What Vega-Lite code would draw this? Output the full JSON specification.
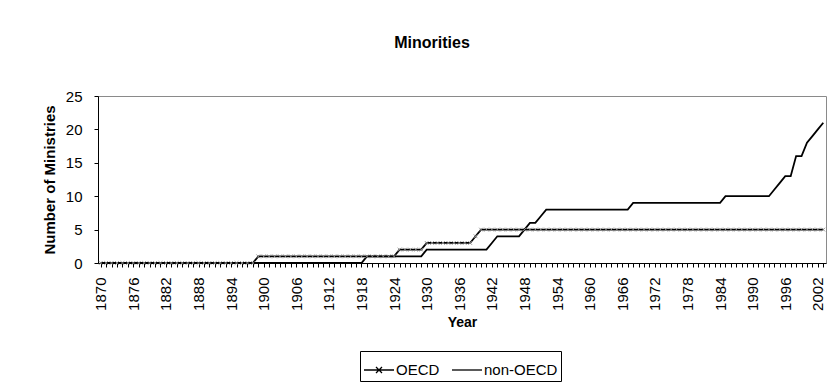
{
  "$schema": "https://vega.github.io/schema/vega-lite/v6.json",
  "autosize": {"type": "none"},
  "width": 728,
  "height": 167,
  "padding": {"left": 98, "top": 96, "right": 4, "bottom": 120},
  "background": "white",
  "config": {
    "font": "Liberation Sans",
    "view": {"stroke": "#8a8a8a", "strokeWidth": 1}
  },
  "title": {
    "text": "Minorities",
    "font": "Liberation Sans",
    "fontSize": 16,
    "fontWeight": "bold",
    "color": "black",
    "anchor": "middle",
    "dx": -30,
    "offset": 38
  },
  "data": {
    "values": [
      {"Year": 1870, "OECD": 0, "non-OECD": 0},
      {"Year": 1871, "OECD": 0, "non-OECD": 0},
      {"Year": 1872, "OECD": 0, "non-OECD": 0},
      {"Year": 1873, "OECD": 0, "non-OECD": 0},
      {"Year": 1874, "OECD": 0, "non-OECD": 0},
      {"Year": 1875, "OECD": 0, "non-OECD": 0},
      {"Year": 1876, "OECD": 0, "non-OECD": 0},
      {"Year": 1877, "OECD": 0, "non-OECD": 0},
      {"Year": 1878, "OECD": 0, "non-OECD": 0},
      {"Year": 1879, "OECD": 0, "non-OECD": 0},
      {"Year": 1880, "OECD": 0, "non-OECD": 0},
      {"Year": 1881, "OECD": 0, "non-OECD": 0},
      {"Year": 1882, "OECD": 0, "non-OECD": 0},
      {"Year": 1883, "OECD": 0, "non-OECD": 0},
      {"Year": 1884, "OECD": 0, "non-OECD": 0},
      {"Year": 1885, "OECD": 0, "non-OECD": 0},
      {"Year": 1886, "OECD": 0, "non-OECD": 0},
      {"Year": 1887, "OECD": 0, "non-OECD": 0},
      {"Year": 1888, "OECD": 0, "non-OECD": 0},
      {"Year": 1889, "OECD": 0, "non-OECD": 0},
      {"Year": 1890, "OECD": 0, "non-OECD": 0},
      {"Year": 1891, "OECD": 0, "non-OECD": 0},
      {"Year": 1892, "OECD": 0, "non-OECD": 0},
      {"Year": 1893, "OECD": 0, "non-OECD": 0},
      {"Year": 1894, "OECD": 0, "non-OECD": 0},
      {"Year": 1895, "OECD": 0, "non-OECD": 0},
      {"Year": 1896, "OECD": 0, "non-OECD": 0},
      {"Year": 1897, "OECD": 0, "non-OECD": 0},
      {"Year": 1898, "OECD": 0, "non-OECD": 0},
      {"Year": 1899, "OECD": 1, "non-OECD": 0},
      {"Year": 1900, "OECD": 1, "non-OECD": 0},
      {"Year": 1901, "OECD": 1, "non-OECD": 0},
      {"Year": 1902, "OECD": 1, "non-OECD": 0},
      {"Year": 1903, "OECD": 1, "non-OECD": 0},
      {"Year": 1904, "OECD": 1, "non-OECD": 0},
      {"Year": 1905, "OECD": 1, "non-OECD": 0},
      {"Year": 1906, "OECD": 1, "non-OECD": 0},
      {"Year": 1907, "OECD": 1, "non-OECD": 0},
      {"Year": 1908, "OECD": 1, "non-OECD": 0},
      {"Year": 1909, "OECD": 1, "non-OECD": 0},
      {"Year": 1910, "OECD": 1, "non-OECD": 0},
      {"Year": 1911, "OECD": 1, "non-OECD": 0},
      {"Year": 1912, "OECD": 1, "non-OECD": 0},
      {"Year": 1913, "OECD": 1, "non-OECD": 0},
      {"Year": 1914, "OECD": 1, "non-OECD": 0},
      {"Year": 1915, "OECD": 1, "non-OECD": 0},
      {"Year": 1916, "OECD": 1, "non-OECD": 0},
      {"Year": 1917, "OECD": 1, "non-OECD": 0},
      {"Year": 1918, "OECD": 1, "non-OECD": 0},
      {"Year": 1919, "OECD": 1, "non-OECD": 1},
      {"Year": 1920, "OECD": 1, "non-OECD": 1},
      {"Year": 1921, "OECD": 1, "non-OECD": 1},
      {"Year": 1922, "OECD": 1, "non-OECD": 1},
      {"Year": 1923, "OECD": 1, "non-OECD": 1},
      {"Year": 1924, "OECD": 1, "non-OECD": 1},
      {"Year": 1925, "OECD": 2, "non-OECD": 1},
      {"Year": 1926, "OECD": 2, "non-OECD": 1},
      {"Year": 1927, "OECD": 2, "non-OECD": 1},
      {"Year": 1928, "OECD": 2, "non-OECD": 1},
      {"Year": 1929, "OECD": 2, "non-OECD": 1},
      {"Year": 1930, "OECD": 3, "non-OECD": 2},
      {"Year": 1931, "OECD": 3, "non-OECD": 2},
      {"Year": 1932, "OECD": 3, "non-OECD": 2},
      {"Year": 1933, "OECD": 3, "non-OECD": 2},
      {"Year": 1934, "OECD": 3, "non-OECD": 2},
      {"Year": 1935, "OECD": 3, "non-OECD": 2},
      {"Year": 1936, "OECD": 3, "non-OECD": 2},
      {"Year": 1937, "OECD": 3, "non-OECD": 2},
      {"Year": 1938, "OECD": 3, "non-OECD": 2},
      {"Year": 1939, "OECD": 4, "non-OECD": 2},
      {"Year": 1940, "OECD": 5, "non-OECD": 2},
      {"Year": 1941, "OECD": 5, "non-OECD": 2},
      {"Year": 1942, "OECD": 5, "non-OECD": 3},
      {"Year": 1943, "OECD": 5, "non-OECD": 4},
      {"Year": 1944, "OECD": 5, "non-OECD": 4},
      {"Year": 1945, "OECD": 5, "non-OECD": 4},
      {"Year": 1946, "OECD": 5, "non-OECD": 4},
      {"Year": 1947, "OECD": 5, "non-OECD": 4},
      {"Year": 1948, "OECD": 5, "non-OECD": 5},
      {"Year": 1949, "OECD": 5, "non-OECD": 6},
      {"Year": 1950, "OECD": 5, "non-OECD": 6},
      {"Year": 1951, "OECD": 5, "non-OECD": 7},
      {"Year": 1952, "OECD": 5, "non-OECD": 8},
      {"Year": 1953, "OECD": 5, "non-OECD": 8},
      {"Year": 1954, "OECD": 5, "non-OECD": 8},
      {"Year": 1955, "OECD": 5, "non-OECD": 8},
      {"Year": 1956, "OECD": 5, "non-OECD": 8},
      {"Year": 1957, "OECD": 5, "non-OECD": 8},
      {"Year": 1958, "OECD": 5, "non-OECD": 8},
      {"Year": 1959, "OECD": 5, "non-OECD": 8},
      {"Year": 1960, "OECD": 5, "non-OECD": 8},
      {"Year": 1961, "OECD": 5, "non-OECD": 8},
      {"Year": 1962, "OECD": 5, "non-OECD": 8},
      {"Year": 1963, "OECD": 5, "non-OECD": 8},
      {"Year": 1964, "OECD": 5, "non-OECD": 8},
      {"Year": 1965, "OECD": 5, "non-OECD": 8},
      {"Year": 1966, "OECD": 5, "non-OECD": 8},
      {"Year": 1967, "OECD": 5, "non-OECD": 8},
      {"Year": 1968, "OECD": 5, "non-OECD": 9},
      {"Year": 1969, "OECD": 5, "non-OECD": 9},
      {"Year": 1970, "OECD": 5, "non-OECD": 9},
      {"Year": 1971, "OECD": 5, "non-OECD": 9},
      {"Year": 1972, "OECD": 5, "non-OECD": 9},
      {"Year": 1973, "OECD": 5, "non-OECD": 9},
      {"Year": 1974, "OECD": 5, "non-OECD": 9},
      {"Year": 1975, "OECD": 5, "non-OECD": 9},
      {"Year": 1976, "OECD": 5, "non-OECD": 9},
      {"Year": 1977, "OECD": 5, "non-OECD": 9},
      {"Year": 1978, "OECD": 5, "non-OECD": 9},
      {"Year": 1979, "OECD": 5, "non-OECD": 9},
      {"Year": 1980, "OECD": 5, "non-OECD": 9},
      {"Year": 1981, "OECD": 5, "non-OECD": 9},
      {"Year": 1982, "OECD": 5, "non-OECD": 9},
      {"Year": 1983, "OECD": 5, "non-OECD": 9},
      {"Year": 1984, "OECD": 5, "non-OECD": 9},
      {"Year": 1985, "OECD": 5, "non-OECD": 10},
      {"Year": 1986, "OECD": 5, "non-OECD": 10},
      {"Year": 1987, "OECD": 5, "non-OECD": 10},
      {"Year": 1988, "OECD": 5, "non-OECD": 10},
      {"Year": 1989, "OECD": 5, "non-OECD": 10},
      {"Year": 1990, "OECD": 5, "non-OECD": 10},
      {"Year": 1991, "OECD": 5, "non-OECD": 10},
      {"Year": 1992, "OECD": 5, "non-OECD": 10},
      {"Year": 1993, "OECD": 5, "non-OECD": 10},
      {"Year": 1994, "OECD": 5, "non-OECD": 11},
      {"Year": 1995, "OECD": 5, "non-OECD": 12},
      {"Year": 1996, "OECD": 5, "non-OECD": 13},
      {"Year": 1997, "OECD": 5, "non-OECD": 13},
      {"Year": 1998, "OECD": 5, "non-OECD": 16},
      {"Year": 1999, "OECD": 5, "non-OECD": 16},
      {"Year": 2000, "OECD": 5, "non-OECD": 18},
      {"Year": 2001, "OECD": 5, "non-OECD": 19},
      {"Year": 2002, "OECD": 5, "non-OECD": 20},
      {"Year": 2003, "OECD": 5, "non-OECD": 21}
    ]
  },
  "transform": [
    {"fold": ["OECD", "non-OECD"], "as": ["Group", "Ministries"]}
  ],
  "encoding": {
    "x": {
      "field": "Year",
      "type": "ordinal",
      "scale": {"type": "point", "padding": 0.5},
      "axis": {
        "title": "Year",
        "titleFont": "Liberation Sans",
        "titleFontSize": 14,
        "titleFontWeight": "bold",
        "titleColor": "black",
        "titlePadding": 5,
        "labelAngle": -90,
        "labelFont": "Liberation Sans",
        "labelFontSize": 15,
        "labelColor": "black",
        "labelPadding": 10,
        "labelOverlap": false,
        "labelExpr": "(datum.value - 1870) % 6 === 0 ? datum.label : ''",
        "tickSize": 4,
        "tickColor": "black",
        "domainColor": "black",
        "grid": false
      }
    },
    "y": {
      "field": "Ministries",
      "type": "quantitative",
      "scale": {"domain": [0, 25], "nice": false},
      "axis": {
        "title": "Number of Ministries",
        "titleFont": "Liberation Sans",
        "titleFontSize": 15,
        "titleFontWeight": "bold",
        "titleColor": "black",
        "titlePadding": 8,
        "values": [0, 5, 10, 15, 20, 25],
        "labelFont": "Liberation Sans",
        "labelFontSize": 15,
        "labelColor": "black",
        "labelPadding": 12,
        "tickSize": 4,
        "tickColor": "black",
        "domainColor": "black",
        "grid": false
      }
    }
  },
  "layer": [
    {
      "mark": {"type": "line", "strokeWidth": 1.8},
      "encoding": {
        "color": {
          "field": "Group",
          "type": "nominal",
          "scale": {"domain": ["OECD", "non-OECD"], "range": ["black", "black"]},
          "legend": {
            "orient": "none",
            "legendX": 262,
            "legendY": 255,
            "direction": "horizontal",
            "title": null,
            "strokeColor": "black",
            "fillColor": "white",
            "padding": 3,
            "labelFont": "Liberation Sans",
            "labelFontSize": 15,
            "labelColor": "black",
            "labelOffset": 1,
            "columnPadding": 9,
            "symbolSize": 900,
            "symbolStrokeWidth": 1.3,
            "symbolType": "M-1,0H1",
            "encode": {
              "symbols": {
                "update": {
                  "shape": {"signal": "datum.value === 'OECD' ? 'M-1,0H1M-0.2,-0.2L0.2,0.2M-0.2,0.2L0.2,-0.2' : 'M-1,0H1'"}
                }
              }
            }
          }
        }
      }
    },
    {
      "transform": [{"filter": "datum.Group === 'OECD'"}],
      "mark": {
        "type": "point",
        "shape": "M-1,-1L1,1M-1,1L1,-1",
        "size": 14,
        "filled": false,
        "color": "#8c8c8c",
        "strokeWidth": 0.9,
        "opacity": 1
      }
    }
  ]
}
